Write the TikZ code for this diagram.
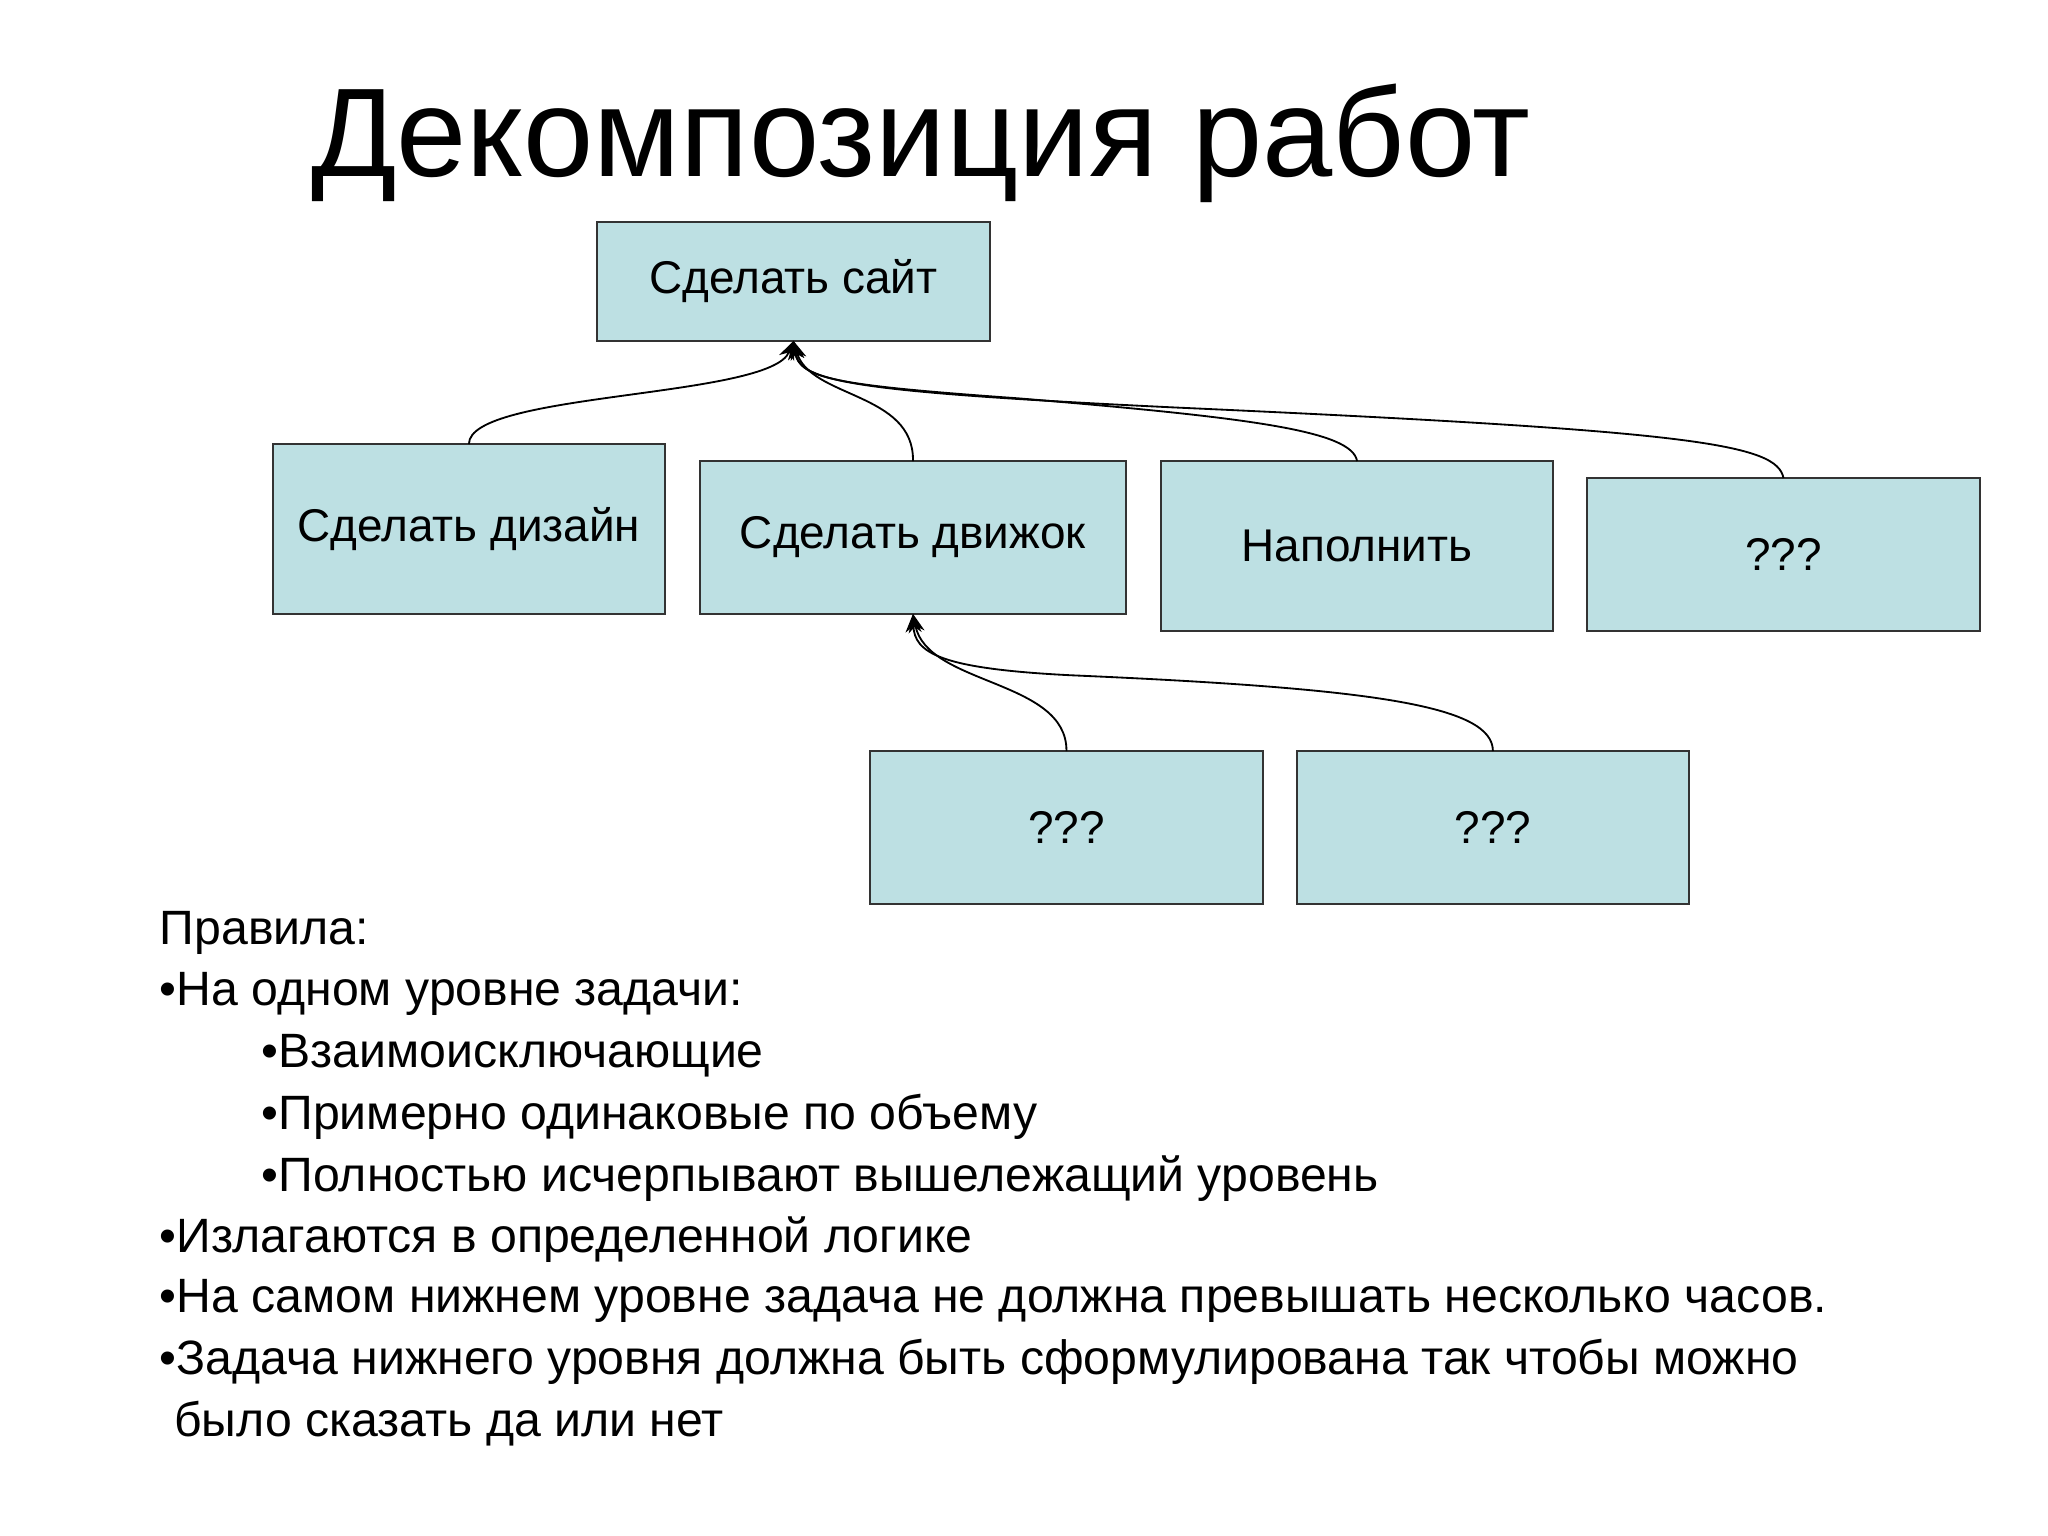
\documentclass[tikz,border=0pt]{standalone}
\usepackage{fontspec}
\setmainfont{Liberation Sans}
\usetikzlibrary{arrows.meta}
\begin{document}
\begin{tikzpicture}[x=0.02cm,y=-0.02cm,
  box/.style={draw=black!80,fill=boxc,line width=0.8pt,inner sep=0pt},
  conn/.style={black,line width=0.8pt,-{Stealth[length=8pt,width=7pt]}},
  txt/.style={anchor=west,inner sep=0pt,font=\fontsize{21pt}{24pt}\selectfont}]
\definecolor{boxc}{HTML}{BDE0E3}
\useasboundingbox[fill=white] (0,0) rectangle (1568,1176);
\node[anchor=base west,inner sep=0pt,font=\fontsize{55pt}{60pt}\selectfont] (title) at (238,135) {Декомпозиция работ};
\newcommand{\bx}[6]{\draw[box] (#2,#3) rectangle (#4,#5) node[pos=0.5,font=\fontsize{20pt}{24pt}\selectfont] (#1) {#6};
 \coordinate (#1n) at ({(#2+#4)/2},#3); \coordinate (#1s) at ({(#2+#4)/2},#5);}
\bx{site}{457}{170}{758}{261}{Сделать сайт}
\bx{des}{209}{340}{509}{470}{Сделать дизайн}
\bx{eng}{536}{353}{862}{470}{Сделать движок}
\bx{fil}{889}{353}{1189}{483}{Наполнить}
\bx{qa}{1215}{366}{1516}{483}{???}
\bx{qb}{666}{575}{967}{692}{???}
\bx{qc}{993}{575}{1293}{692}{???}
\draw[conn] (desn) .. controls (359,300) and (590,305) .. (sites);
\draw[conn] (engn) .. controls (700,300) and (620,305) .. (sites);
\draw[conn] (filn) .. controls (1035,330) and (960,320) .. (780,305) .. controls (640,295) and (612,290) .. (sites);
\draw[conn] (qan) .. controls (1360,340) and (1300,330) .. (900,312) .. controls (650,300) and (612,292) .. (sites);
\draw[conn] (qbn) .. controls (817,520) and (710,525) .. (engs);
\draw[conn] (qcn) .. controls (1143,540) and (1050,527) .. (820,517) .. controls (720,512) and (700,500) .. (engs);
\node[txt] (r0) at (122,714) {Правила:};
\node[txt] (r1) at (122,761) {•На одном уровне задачи:};
\node[txt] (r2) at (200,808) {•Взаимоисключающие};
\node[txt] (r3) at (200,855) {•Примерно одинаковые по объему};
\node[txt] (r4) at (200,902) {•Полностью исчерпывают вышележащий уровень};
\node[txt] (r5) at (122,949) {•Излагаются в определенной логике};
\node[txt] (r6) at (122,996) {•На самом нижнем уровне задача не должна превышать несколько часов.};
\node[txt] (r7) at (122,1043) {•Задача нижнего уровня должна быть сформулирована так чтобы можно};
\node[txt] (r8) at (133,1090) {было сказать да или нет};
\end{tikzpicture}
\end{document}
